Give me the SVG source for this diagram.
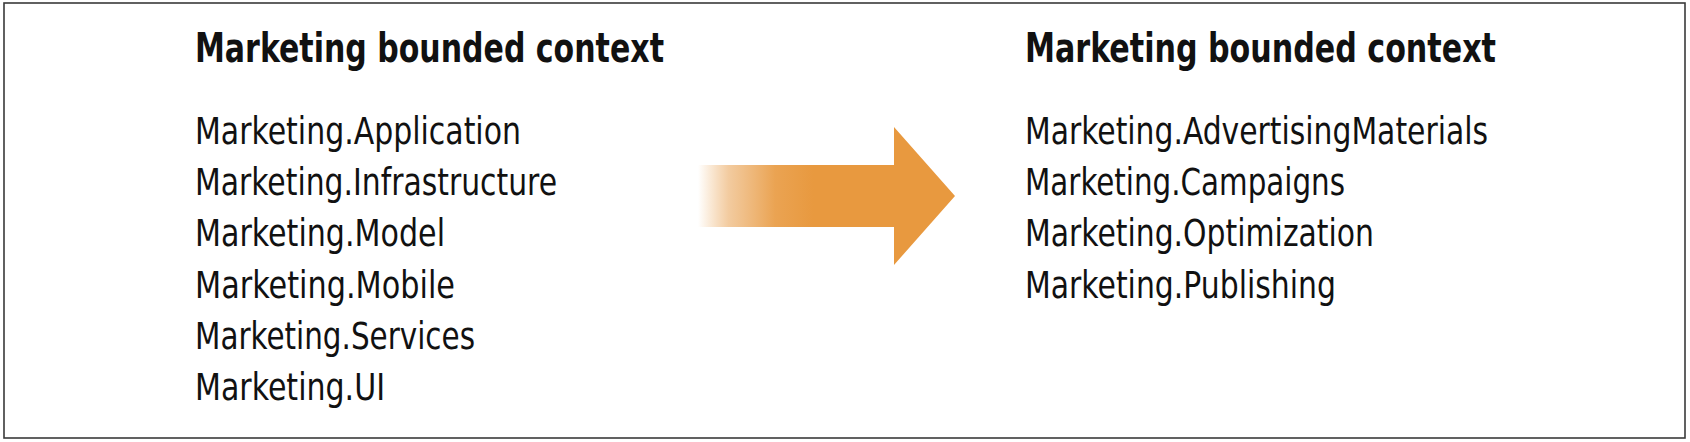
<svg xmlns="http://www.w3.org/2000/svg" width="1690" height="442" viewBox="0 0 1690 442">
  <style>
    .frame { fill: #ffffff; stroke: #3a3a3a; stroke-width: 1.6; }
    .head { font-family: "Liberation Sans Narrow", "DejaVu Sans Condensed", "Liberation Sans", sans-serif; font-weight: bold; font-size: 41px; fill: #111111; }
    .item { font-family: "Liberation Sans Narrow", "DejaVu Sans Condensed", "Liberation Sans", sans-serif; font-size: 37px; fill: #111111; }
  </style>
  <defs>
    <linearGradient id="fade" gradientUnits="userSpaceOnUse" x1="698" y1="0" x2="955" y2="0">
      <stop offset="0" stop-color="#E8993F" stop-opacity="0"/>
      <stop offset="0.12" stop-color="#E8A050" stop-opacity="0.55"/>
      <stop offset="0.3" stop-color="#E8993F" stop-opacity="0.9"/>
      <stop offset="0.45" stop-color="#E8993F" stop-opacity="1"/>
      <stop offset="1" stop-color="#E8993F" stop-opacity="1"/>
    </linearGradient>
  </defs>
  <rect class="frame" x="4" y="3" width="1681" height="435"/>
  <g id="before-context">
    <text class="head" x="195" y="62" textLength="469" lengthAdjust="spacingAndGlyphs">Marketing bounded context</text>
    <text class="item" x="195" y="144" textLength="326" lengthAdjust="spacingAndGlyphs">Marketing.Application</text>
    <text class="item" x="195" y="195" textLength="362" lengthAdjust="spacingAndGlyphs">Marketing.Infrastructure</text>
    <text class="item" x="195" y="246" textLength="250" lengthAdjust="spacingAndGlyphs">Marketing.Model</text>
    <text class="item" x="195" y="298" textLength="260" lengthAdjust="spacingAndGlyphs">Marketing.Mobile</text>
    <text class="item" x="195" y="349" textLength="280" lengthAdjust="spacingAndGlyphs">Marketing.Services</text>
    <text class="item" x="195" y="400" textLength="190" lengthAdjust="spacingAndGlyphs">Marketing.UI</text>
  </g>
  <g id="after-context">
    <text class="head" x="1025" y="62" textLength="471" lengthAdjust="spacingAndGlyphs">Marketing bounded context</text>
    <text class="item" x="1025" y="144" textLength="463" lengthAdjust="spacingAndGlyphs">Marketing.AdvertisingMaterials</text>
    <text class="item" x="1025" y="195" textLength="320" lengthAdjust="spacingAndGlyphs">Marketing.Campaigns</text>
    <text class="item" x="1025" y="246" textLength="349" lengthAdjust="spacingAndGlyphs">Marketing.Optimization</text>
    <text class="item" x="1025" y="298" textLength="311" lengthAdjust="spacingAndGlyphs">Marketing.Publishing</text>
  </g>
  <g id="connectors">
    <polygon points="698,165 894,165 894,127 955,196 894,265 894,227 698,227" fill="url(#fade)"/>
  </g>
</svg>
